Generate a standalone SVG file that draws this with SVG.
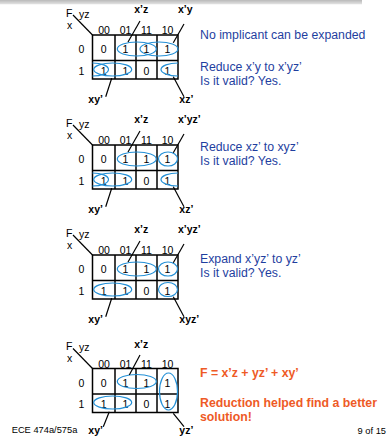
<svg xmlns="http://www.w3.org/2000/svg" xmlns:xlink="http://www.w3.org/1999/xlink" width="387" height="443" viewBox="0 0 387 443">
<defs>
  <linearGradient id="bar" x1="0" y1="0" x2="0" y2="1">
    <stop offset="0" stop-color="#b9b9b9"/>
    <stop offset="1" stop-color="#e4e4e4"/>
  </linearGradient>
  <style>
    text { font-family: "Liberation Sans", Arial, sans-serif; fill: #000; }
    .s { font-size: 10.5px; }
    .m { font-size: 10.5px; text-anchor: middle; }
    .lbl { font-size: 10.5px; font-weight: bold; }
    .note { font-size: 12.3px; fill: #1f3f9f; }
    .hl { font-size: 12.3px; font-weight: bold; fill: #ee5a26; }
    .foot { font-size: 9.3px; }
    .grid { fill: none; stroke: #000; stroke-width: 1.5; }
    .loop { fill: none; stroke: #2490d6; stroke-width: 1.2; }
    .lead { stroke: #000; stroke-width: 1.2; fill: none; }
  </style>
  <clipPath id="row1clip"><rect x="92.5" y="60.5" width="85.5" height="18.5"/></clipPath>
  <g id="kmap">
    <line class="lead" x1="73" y1="15" x2="92.5" y2="35"/>
    <text class="s" x="66" y="16.5">F</text>
    <text class="s" x="79" y="17.5">yz</text>
    <text class="s" x="67" y="28.5">x</text>
    <text class="m" x="104" y="34">00</text>
    <text class="m" x="125.5" y="34">01</text>
    <text class="m" x="146.5" y="34">11</text>
    <text class="m" x="167.5" y="34">10</text>
    <text class="m" x="81.5" y="53">0</text>
    <text class="m" x="81.5" y="74.5">1</text>
    <rect class="grid" x="92.5" y="35" width="85.5" height="44"/>
    <line class="grid" x1="115" y1="35" x2="115" y2="79"/>
    <line class="grid" x1="136" y1="35" x2="136" y2="79"/>
    <line class="grid" x1="157" y1="35" x2="157" y2="79"/>
    <line class="grid" x1="92.5" y1="60.5" x2="178" y2="60.5"/>
    <text class="m" x="103.75" y="53">0</text>
    <text class="m" x="125.5" y="53">1</text>
    <text class="m" x="146.5" y="53">1</text>
    <text class="m" x="167.5" y="53">1</text>
    <text class="m" x="103.75" y="74.5">1</text>
    <text class="m" x="125.5" y="74.5">1</text>
    <text class="m" x="146.5" y="74.5">0</text>
    <text class="m" x="167.5" y="74.5">1</text>
  </g>
  <g id="wrap" clip-path="url(#row1clip)">
    <ellipse class="loop" cx="92.5" cy="69.5" rx="16" ry="6.5"/>
    <ellipse class="loop" cx="178" cy="69.5" rx="17" ry="6.5"/>
  </g>
</defs>

<rect x="0" y="0" width="362" height="4.3" fill="url(#bar)"/>

<g id="map1">
  <use xlink:href="#kmap"/>
  <ellipse class="loop" cx="136.8" cy="49" rx="19.5" ry="7"/>
  <ellipse class="loop" cx="159" cy="49" rx="19" ry="7"/>
  <ellipse class="loop" cx="112.7" cy="69.5" rx="19" ry="6.5"/>
  <use xlink:href="#wrap"/>
  <text class="lbl" x="141.3" y="12.5" text-anchor="middle">x’z</text>
  <text class="lbl" x="178" y="12.5">x’y</text>
  <text class="lbl" x="88.3" y="102.5">xy’</text>
  <text class="lbl" x="179.3" y="102.5">xz’</text>
  <text class="note" x="200" y="39">No implicant can be expanded</text>
  <text class="note" x="200" y="71">Reduce x’y to x’yz’</text>
  <text class="note" x="200" y="85">Is it valid? Yes.</text>
</g>

<g id="map2" transform="translate(0,110)">
  <use xlink:href="#kmap"/>
  <ellipse class="loop" cx="136.8" cy="49" rx="19.5" ry="7"/>
  <ellipse class="loop" cx="168" cy="49" rx="9.5" ry="7"/>
  <ellipse class="loop" cx="112.7" cy="69.5" rx="19" ry="6.5"/>
  <use xlink:href="#wrap"/>
  <text class="lbl" x="141.3" y="12.5" text-anchor="middle">x’z</text>
  <text class="lbl" x="178" y="12.5">x’yz’</text>
  <text class="lbl" x="88.3" y="102.5">xy’</text>
  <text class="lbl" x="179.3" y="102.5">xz’</text>
  <text class="note" x="200" y="41">Reduce xz’ to xyz’</text>
  <text class="note" x="200" y="55">Is it valid? Yes.</text>
</g>

<g id="map3" transform="translate(0,220)">
  <use xlink:href="#kmap"/>
  <ellipse class="loop" cx="136.8" cy="49" rx="19.5" ry="7"/>
  <ellipse class="loop" cx="168" cy="49" rx="9.5" ry="7"/>
  <ellipse class="loop" cx="112.7" cy="69.5" rx="19" ry="6.5"/>
  <ellipse class="loop" cx="168" cy="69.5" rx="9.5" ry="7"/>
  <text class="lbl" x="141.3" y="12.5" text-anchor="middle">x’z</text>
  <text class="lbl" x="178" y="12.5">x’yz’</text>
  <text class="lbl" x="88.3" y="102.5">xy’</text>
  <text class="lbl" x="179.3" y="102.5">xyz’</text>
  <text class="note" x="200" y="43.3">Expand x’yz’ to yz’</text>
  <text class="note" x="200" y="57.3">Is it valid? Yes.</text>
</g>

<g id="map4" transform="translate(0,333.5)">
  <use xlink:href="#kmap"/>
  <ellipse class="loop" cx="136.8" cy="48" rx="19.5" ry="7"/>
  <ellipse class="loop" cx="168.5" cy="58" rx="9" ry="18.5"/>
  <ellipse class="loop" cx="112.7" cy="69" rx="19" ry="6.5"/>
  <text class="lbl" x="141.3" y="14.8" text-anchor="middle">x’z</text>
  <text class="lbl" x="88.3" y="100">xy’</text>
  <text class="lbl" x="179.3" y="100">yz’</text>
  <text class="hl" x="200" y="43.2">F = x’z + yz’ + xy’</text>
  <text class="hl" x="200" y="73.2">Reduction helped find a better</text>
  <text class="hl" x="200" y="87">solution!</text>
</g>

<g id="connectors">
  <line class="lead" x1="140" y1="21" x2="128" y2="42"/>
  <line class="lead" x1="184" y1="24" x2="173.3" y2="42.7"/>
  <line class="lead" x1="111.7" y1="78.3" x2="105.7" y2="96.7"/>
  <line class="lead" x1="173.3" y1="76.7" x2="184" y2="96.7"/>
  <line class="lead" x1="140" y1="131" x2="128" y2="152"/>
  <line class="lead" x1="184" y1="134" x2="173.3" y2="152.7"/>
  <line class="lead" x1="111.7" y1="188.3" x2="105.7" y2="206.7"/>
  <line class="lead" x1="173.3" y1="186.7" x2="184" y2="206.7"/>
  <line class="lead" x1="140" y1="241" x2="128" y2="262"/>
  <line class="lead" x1="184" y1="244" x2="173.3" y2="262.7"/>
  <line class="lead" x1="111.7" y1="298.3" x2="105.7" y2="316.7"/>
  <line class="lead" x1="173.3" y1="296.7" x2="184" y2="316.7"/>
  <line class="lead" x1="140" y1="355" x2="129.3" y2="375"/>
  <line class="lead" x1="109.3" y1="411.7" x2="103.3" y2="426.7"/>
  <line class="lead" x1="173.3" y1="413.3" x2="184" y2="426.7"/>
</g>

<text class="foot" x="11.7" y="433">ECE 474a/575a</text>
<text class="foot" x="386" y="434" text-anchor="end">9 of 15</text>
</svg>
